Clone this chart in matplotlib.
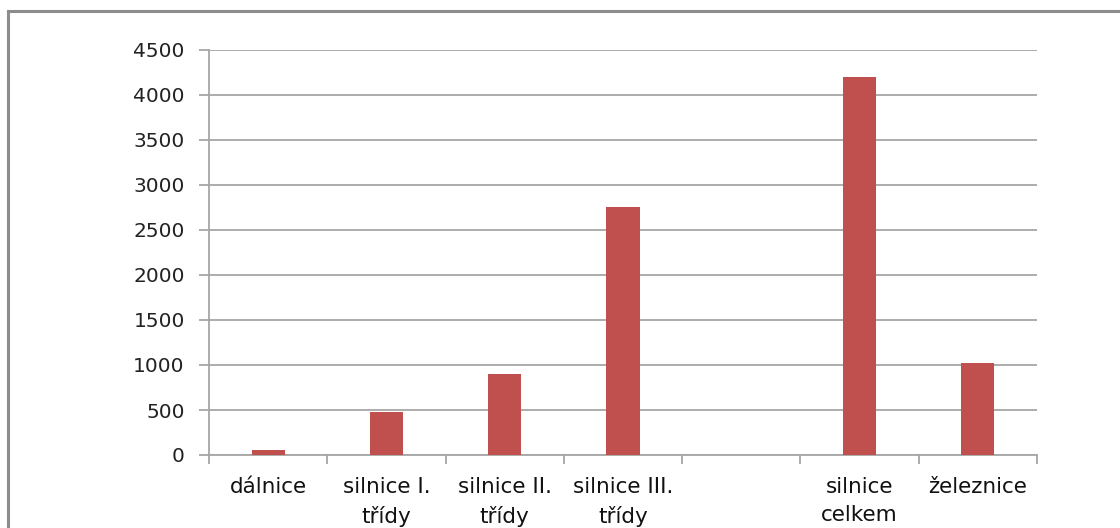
import numpy as np
import matplotlib.pyplot as plt
from matplotlib.lines import Line2D

categories = ["dálnice", "silnice I.\ntřídy", "silnice II.\ntřídy",
              "silnice III.\ntřídy", "", "silnice\ncelkem", "železnice"]
values = [55, 480, 895, 2750, np.nan, 4200, 1025]
y_ticks = [0, 500, 1000, 1500, 2000, 2500, 3000, 3500, 4000, 4500]

bar_color = "#c0504d"
grid_color = "#a6a6a6"

fig = plt.figure(figsize=(11.2, 5.28), dpi=100)
ax = fig.add_axes([209 / 1120, 1 - 455 / 528, (1037 - 209) / 1120, (455 - 50) / 528])

x = np.arange(len(categories))
ax.bar(x, values, width=0.28, color=bar_color, zorder=3)

ax.set_xlim(-0.5, len(categories) - 0.5)
ax.set_ylim(0, 4500)
ax.set_yticks(y_ticks)
ax.set_yticklabels([str(v) for v in y_ticks], fontsize=14.5, family="DejaVu Sans",
                   color="#222222")
ax.yaxis.grid(True, color=grid_color, lw=1.3, zorder=0)

ax.set_xticks(x)
ax.set_xticklabels(categories, fontsize=15.5, family="DejaVu Sans", color="#111111",
                   linespacing=1.5)
ax.set_xticks(np.arange(len(categories) + 1) - 0.5, minor=True)
ax.tick_params(axis="x", which="major", length=0, pad=16)
ax.tick_params(axis="x", which="minor", length=6.5, color=grid_color, width=1.3)
ax.tick_params(axis="y", length=7.5, color=grid_color, width=1.3, pad=10)

for s in ("top", "right"):
    ax.spines[s].set_visible(False)
for s in ("left", "bottom"):
    ax.spines[s].set_color(grid_color)
    ax.spines[s].set_linewidth(1.3)

# outer chart frame (partly cropped in the original)
fig.add_artist(Line2D([8 / 1120, 8 / 1120], [0, 1 - 11 / 528],
                      transform=fig.transFigure, color="#8c8c8c", lw=2.2))
fig.add_artist(Line2D([8 / 1120, 1], [1 - 11 / 528, 1 - 11 / 528],
                      transform=fig.transFigure, color="#8c8c8c", lw=2.2))

fig.savefig("out.png", dpi=100)
